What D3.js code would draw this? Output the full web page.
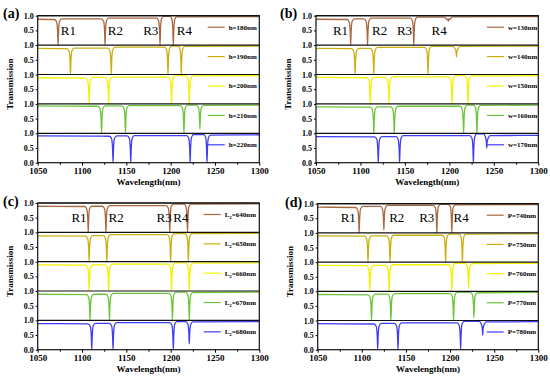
<!DOCTYPE html>
<html>
<head>
<meta charset="utf-8">
<script src="https://cdn.jsdelivr.net/npm/d3@7"></script>
<style>
  body { margin: 0; background: #fff; }
  text { font-family: "Liberation Serif", "Times New Roman", serif; }
</style>
</head>
<body>
<div id="chart"></div>
<script>
// shared values
var xTicks = [1050, 1100, 1150, 1200, 1250, 1300]
var xMinor = [1075, 1125, 1175, 1225, 1275]
var colors = ["#a9673f", "#c9b010", "#f2f200", "#6cc43c", "#3d3df2"]
var rNames = ["R1", "R2", "R3", "R4"]

// (a) thickness h
var aLabels = ["h=180nm", "h=190nm", "h=200nm", "h=210nm", "h=220nm"]
var aDips = [
  [[1073, 0], [1126, 0], [1188, 0], [1203, 0]],
  [[1087, 0], [1133, 0], [1197, 0], [1212, 0]],
  [[1108, 0], [1130, 0], [1201, 0], [1221, 0]],
  [[1122, 0], [1149, 0], [1215, 0], [1233, 0.15]],
  [[1135, 0], [1155, 0], [1222, 0], [1241, 0]]
]
var aLevels = [
  [0.88, 0.9, 0.93, 0.99, 0.97],
  [0.89, 0.91, 0.94, 0.98, 0.97],
  [0.89, 0.91, 0.92, 0.97, 0.96],
  [0.93, 0.94, 0.95, 0.97, 0.96],
  [0.91, 0.92, 0.93, 0.97, 0.95]
]
var aRpos = [1076, 1129, 1169, 1207]

// (b) width w
var bLabels = ["w=130nm", "w=140nm", "w=150nm", "w=160nm", "w=170nm"]
var bDips = [
  [[1089, 0], [1108, 0], [1160, 0], [1199, 0.82]],
  [[1094, 0], [1115, 0], [1176, 0], [1208, 0.6]],
  [[1111, 0], [1132, 0], [1203, 0], [1221, 0]],
  [[1115, 0], [1138, 0], [1216, 0], [1231, 0]],
  [[1120, 0], [1144, 0], [1227, 0], [1242, 0.5]]
]
var bLevels = [
  [0.88, 0.9, 0.93, 0.96, 0.97],
  [0.89, 0.9, 0.93, 0.97, 0.97],
  [0.9, 0.91, 0.93, 0.97, 0.96],
  [0.9, 0.91, 0.93, 0.97, 0.96],
  [0.89, 0.9, 0.93, 0.99, 0.93]
]
var bRpos = [1069, 1113, 1141, 1180]

// (c) length L2
var cValues = ["640", "650", "660", "670", "680"]
var cDips = [
  [[1107, 0], [1127, 0], [1199, 0], [1219, 0]],
  [[1108, 0], [1128, 0], [1200, 0], [1220, 0]],
  [[1108, 0], [1130, 0], [1201, 0], [1221, 0]],
  [[1109, 0], [1131, 0], [1202, 0], [1221, 0]],
  [[1111, 0], [1135, 0], [1203, 0], [1221, 0.2]]
]
var cLevels = [
  [0.89, 0.9, 0.92, 0.97, 0.97],
  [0.88, 0.9, 0.93, 0.97, 0.97],
  [0.89, 0.9, 0.93, 0.97, 0.96],
  [0.89, 0.9, 0.93, 0.97, 0.96],
  [0.89, 0.91, 0.93, 0.97, 0.96]
]
var cRpos = [1088, 1130, 1184, 1203]

// (d) period P
var dLabels = ["P=740nm", "P=750nm", "P=760nm", "P=770nm", "P=780nm"]
var dDips = [
  [[1097, 0], [1125, 0.1], [1185, 0], [1202, 0]],
  [[1107, 0], [1132, 0], [1195, 0], [1214, 0]],
  [[1109, 0], [1131, 0], [1202, 0], [1221, 0.1]],
  [[1111, 0], [1133, 0], [1204, 0], [1227, 0.1]],
  [[1118, 0], [1141, 0], [1212, 0], [1237, 0.5]]
]
var dLevels = [
  [0.88, 0.92, 0.95, 0.99, 0.97],
  [0.9, 0.91, 0.93, 0.97, 0.97],
  [0.89, 0.9, 0.92, 0.97, 0.96],
  [0.89, 0.91, 0.93, 0.97, 0.96],
  [0.89, 0.91, 0.93, 0.98, 0.96]
]
var dRpos = [1076, 1131, 1165, 1204]

var svg = d3.select("#chart")
  .append("svg")
    .attr("width", 550)
    .attr("height", 377)

// turns dip list + plateau levels into a path point list
function curvePoints(dips, levels) {
  var pts = [[1050, levels[0]]]
  dips.forEach(function(d, i) {
    var c = d[0], m = d[1], l0 = levels[i], l1 = levels[i + 1]
    pts.push([c - 4, l0 - 0.01])
    pts.push([c - 1.6, l0 - 0.1])
    pts.push([c - 0.5, (l0 + m) / 2])
    pts.push([c, m])
    pts.push([c + 0.5, (l1 + m) / 2])
    pts.push([c + 1.6, l1 - 0.1])
    pts.push([c + 4, l1 - 0.01])
  })
  pts.push([1300, levels[4]])
  return pts
}

function drawPanel(p) {
  var g = svg.append("g")
  var h = (p.bottom - p.top) / 5
  var x = d3.scaleLinear().domain([1050, 1300]).range([p.left, p.right])

  var clipId = "clip" + p.letter
  svg.append("clipPath").attr("id", clipId)
    .append("rect")
      .attr("x", p.left).attr("y", p.top)
      .attr("width", p.right - p.left).attr("height", p.bottom - p.top)

  for (var i = 0; i < 5; i++) {
    var y = d3.scaleLinear().domain([0, 1]).range([p.top + (i + 1) * h, p.top + i * h])

    g.append("path")
      .datum(curvePoints(p.dips[i], p.levels[i]))
      .attr("clip-path", "url(#" + clipId + ")")
      .attr("fill", "none")
      .attr("stroke", colors[i])
      .attr("stroke-width", 1.3)
      .attr("d", d3.line()
        .x(function(d) { return x(d[0]) })
        .y(function(d) { return y(d[1]) })
        .curve(d3.curveMonotoneX))

    // y axis for this strip
    var yAxis = d3.axisLeft(y)
      .tickValues(i == 4 ? [0, 0.5, 1] : [0.5, 1])
      .tickFormat(d3.format(".1f"))
      .tickSize(2)
    var ya = g.append("g")
      .attr("transform", "translate(" + p.left + ",0)")
      .call(yAxis)
    ya.select(".domain").remove()
    ya.selectAll("text")
      .attr("x", -4)
      .attr("font-size", 8)
      .attr("font-weight", "bold")
      .attr("font-family", "Liberation Serif, serif")

    // separator line
    g.append("line")
      .attr("x1", p.left).attr("x2", p.right)
      .attr("y1", p.top + i * h).attr("y2", p.top + i * h)
      .attr("stroke", "#111").attr("stroke-width", 1.2)

    // legend
    var ly = p.top + i * h + 11.5
    g.append("line")
      .attr("x1", p.left + p.legX).attr("x2", p.left + p.legX + 17)
      .attr("y1", ly).attr("y2", ly)
      .attr("stroke", colors[i]).attr("stroke-width", 1.2)
    var t = g.append("text")
      .attr("x", p.left + p.legX + 21)
      .attr("y", ly + 2.4)
      .attr("font-size", 7)
      .attr("font-weight", "bold")
    if (p.labels) {
      t.text(p.labels[i])
    } else {
      t.append("tspan").text("L")
      t.append("tspan").attr("font-size", 5).attr("dy", 2).text("2")
      t.append("tspan").attr("dy", -2).text("=" + cValues[i] + "nm")
    }
  }

  // frame
  g.append("rect")
    .attr("x", p.left).attr("y", p.top)
    .attr("width", p.right - p.left).attr("height", p.bottom - p.top)
    .attr("fill", "none").attr("stroke", "#111").attr("stroke-width", 1.2)

  // x axis
  var xa = g.append("g")
    .attr("transform", "translate(0," + p.bottom + ")")
    .call(d3.axisBottom(x).tickValues(xTicks).tickSize(3).tickFormat(d3.format("d")))
  xa.select(".domain").remove()
  xa.selectAll("text")
    .attr("y", 5)
    .attr("font-size", 9)
    .attr("font-weight", "bold")
    .attr("font-family", "Liberation Serif, serif")
  var xm = g.append("g")
    .attr("transform", "translate(0," + p.bottom + ")")
    .call(d3.axisBottom(x).tickValues(xMinor).tickSize(2).tickFormat(""))
  xm.select(".domain").remove()

  g.append("text")
    .attr("x", (p.left + p.right) / 2)
    .attr("y", p.bottom + 22)
    .attr("text-anchor", "middle")
    .attr("font-size", 9)
    .attr("font-weight", "bold")
    .text("Wavelength(nm)")

  g.append("text")
    .attr("transform", "translate(" + (p.left - 25) + "," + ((p.top + p.bottom) / 2 - 5) + ") rotate(-90)")
    .attr("text-anchor", "middle")
    .attr("font-size", 9)
    .attr("font-weight", "bold")
    .text("Transmission")

  // R1..R4 markers in the top strip
  var yTop = d3.scaleLinear().domain([0, 1]).range([p.top + h, p.top])
  rNames.forEach(function(r, k) {
    g.append("text")
      .attr("x", x(p.rpos[k]))
      .attr("y", yTop(0.36))
      .attr("font-size", 13)
      .text(r)
  })

  g.append("text")
    .attr("x", p.letterX)
    .attr("y", p.letterY)
    .attr("font-size", 14)
    .attr("font-weight", "bold")
    .text("(" + p.letter + ")")
}

drawPanel({letter: "a", left: 37.7, right: 259.3, top: 15.7, bottom: 162.7,
  labels: aLabels, dips: aDips, levels: aLevels, rpos: aRpos, legX: 170, letterX: 3, letterY: 18})
drawPanel({letter: "b", left: 316, right: 538.3, top: 15.7, bottom: 162.7,
  labels: bLabels, dips: bDips, levels: bLevels, rpos: bRpos, legX: 171, letterX: 280, letterY: 18})
drawPanel({letter: "c", left: 37.7, right: 259.3, top: 203, bottom: 349.7,
  labels: null, dips: cDips, levels: cLevels, rpos: cRpos, legX: 166, letterX: 3, letterY: 206})
drawPanel({letter: "d", left: 317.7, right: 538.3, top: 203.7, bottom: 349.7,
  labels: dLabels, dips: dDips, levels: dLevels, rpos: dRpos, legX: 169, letterX: 285, letterY: 207})
</script>
</body>
</html>
